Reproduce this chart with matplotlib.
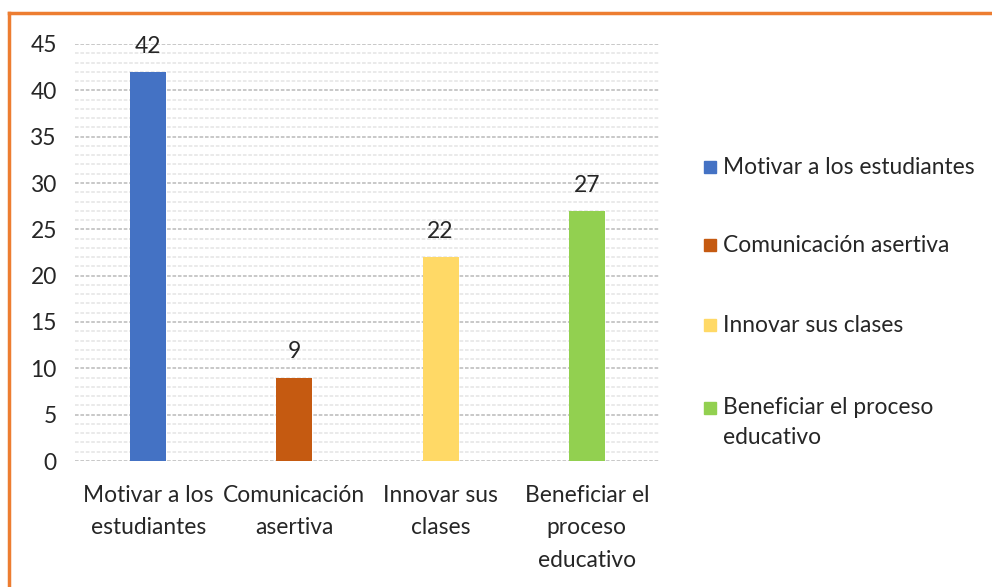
import matplotlib
matplotlib.use("Agg")
import matplotlib.pyplot as plt
from matplotlib.ticker import MultipleLocator
from matplotlib.patches import Rectangle
from matplotlib.lines import Line2D

categories = ["Motivar a los\nestudiantes", "Comunicación\nasertiva", "Innovar sus\nclases", "Beneficiar el\nproceso\neducativo"]
legend_labels = ["Motivar a los estudiantes", "Comunicación asertiva", "Innovar sus clases", "Beneficiar el proceso\neducativo"]
values = [42, 9, 22, 27]
colors = ["#4472C4", "#C55A11", "#FFD966", "#92D050"]
yticks = [0, 5, 10, 15, 20, 25, 30, 35, 40, 45]

plt.rcParams['font.family'] = ['Lato', 'DejaVu Sans']
FS = 16.4
LS = 1.68
TXT = "#262626"

fig = plt.figure(figsize=(9.92, 5.87), dpi=100)
W, H = 992, 587
ax = fig.add_axes([75 / W, (H - 461) / H, 585 / W, 417 / H])

x = list(range(len(values)))
bars = ax.bar(x, values, width=0.246, color=colors, zorder=3)
for xi, v in zip(x, values):
    ax.annotate(str(v), (xi, v), xytext=(0, 11), textcoords="offset points",
                ha="center", va="bottom", fontsize=FS, color=TXT)

ax.set_xlim(-0.5, len(values) - 0.5)
ax.set_ylim(0, 45)
ax.set_yticks(yticks)
ax.yaxis.set_minor_locator(MultipleLocator(1))
ax.set_xticks(x)
ax.set_xticklabels(categories, fontsize=FS, color=TXT, linespacing=LS)
ax.tick_params(axis="x", length=0, pad=17)
ax.tick_params(axis="y", which="both", length=0, pad=13, labelsize=FS, labelcolor=TXT)
ax.grid(axis="y", which="minor", color="#e8e8e8", linewidth=1.3, linestyle=(0, (2, 1)), zorder=0)
ax.grid(axis="y", which="major", color="#c4c4c4", linewidth=1.3, linestyle=(0, (2, 1)), zorder=1)
ax.set_axisbelow(True)
for s in ax.spines.values():
    s.set_visible(False)

# legend
leg_y = [167, 245, 325, 408]
for lab, c, yy in zip(legend_labels, colors, leg_y):
    fig.add_artist(Rectangle((704 / W, (H - yy - 6) / H), 12 / W, 12 / H,
                             transform=fig.transFigure, color=c))
    ty = yy if "\n" not in lab else yy + 14.5
    fig.text(723 / W, (H - ty) / H, lab, fontsize=FS, color=TXT,
             ha="left", va="center", linespacing=1.49)

# orange border
fig.add_artist(Line2D([9 / W, 1], [(H - 13) / H, (H - 13) / H], color="#ED7D31",
                      linewidth=2.5, transform=fig.transFigure))
fig.add_artist(Line2D([9 / W, 9 / W], [0, (H - 13) / H], color="#ED7D31",
                      linewidth=2.5, transform=fig.transFigure))

fig.savefig("out.png", dpi=100)
